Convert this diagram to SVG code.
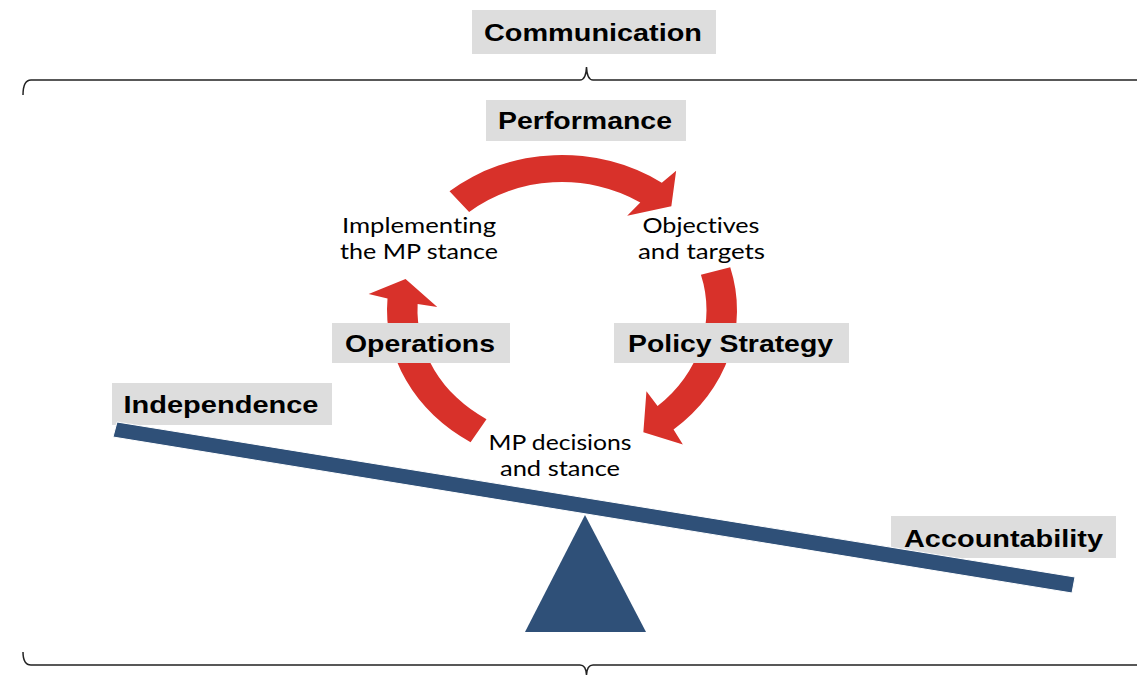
<svg xmlns="http://www.w3.org/2000/svg" width="1137" height="675" viewBox="0 0 1137 675">
  <style>
    .box { fill: #DDDDDD; }
    .label { font-family: "Liberation Sans", Arial, sans-serif; font-weight: bold; font-size: 24px; fill: #000; text-anchor: middle; }
    .step { font-family: Lato, "Open Sans", sans-serif; font-size: 21px; fill: #000; text-anchor: middle; font-variant-ligatures: none; }
    .brace { fill: none; stroke: #222; stroke-width: 1.5; }
    .arrow { fill: #D8312A; }
    .seesaw { fill: #2F5078; }
  </style>

  <rect width="1137" height="675" fill="#FFFFFF"/>

  <!-- braces framing the cycle -->
  <g id="braces">
    <path class="brace" d="M23 95 Q23 80 31 80 H580 Q586 80 586.5 67 Q587 80 593 80 H1137"/>
    <path class="brace" d="M23 652 Q23 665 31 665 H580 Q586 665 586.5 675 Q587 665 593 665 H1137"/>
  </g>

  <!-- cycle arrows: circular arrows on a horizontally stretched circle -->
  <g id="connectors" transform="translate(562 310) scale(1.129 1)">
    <path id="arrow-top" class="arrow" d="M-82.28 -98.05 L-99.63 -118.74 A155 155 0 0 1 88.40 -127.32 L101.10 -139.15 L96.84 -103.86 L57.74 -94.21 L69.34 -107.60 A128 128 0 0 0 -82.28 -98.05 Z"/>
    <path id="arrow-right" class="arrow" d="M123.04 -35.28 L149.00 -42.72 A155 155 0 0 1 98.80 119.43 L107.07 134.61 L72.07 122.35 L74.80 81.34 L84.65 96.02 A128 128 0 0 0 123.04 -35.28 Z"/>
    <path id="arrow-left" class="arrow" d="M-66.88 109.13 L-80.99 132.15 A155 155 0 0 1 -154.56 -11.62 L-171.26 -15.89 L-138.58 -30.97 L-110.46 -3.08 L-127.86 -6.03 A128 128 0 0 0 -66.88 109.13 Z"/>
  </g>

  <!-- cycle steps -->
  <g id="implementing">
    <text class="step" x="419" y="233" textLength="154" lengthAdjust="spacingAndGlyphs">Implementing</text>
    <text class="step" x="419" y="258.5" textLength="158" lengthAdjust="spacingAndGlyphs">the MP stance</text>
  </g>
  <g id="objectives">
    <text class="step" x="701" y="232.5" textLength="117" lengthAdjust="spacingAndGlyphs">Objectives</text>
    <text class="step" x="701.5" y="258.5" textLength="127" lengthAdjust="spacingAndGlyphs">and targets</text>
  </g>
  <g id="mp-decisions">
    <text class="step" x="560" y="450" textLength="143" lengthAdjust="spacingAndGlyphs">MP decisions</text>
    <text class="step" x="560" y="475.5" textLength="120" lengthAdjust="spacingAndGlyphs">and stance</text>
  </g>

  <!-- headline labels -->
  <g id="communication">
    <rect class="box" x="472" y="10" width="244" height="44"/>
    <text class="label" x="593" y="41" textLength="218" lengthAdjust="spacingAndGlyphs">Communication</text>
  </g>
  <g id="performance">
    <rect class="box" x="486" y="100" width="200" height="41"/>
    <text class="label" x="585" y="129" textLength="174" lengthAdjust="spacingAndGlyphs">Performance</text>
  </g>
  <g id="operations">
    <rect class="box" x="332" y="323" width="178" height="40"/>
    <text class="label" x="420" y="352" textLength="150" lengthAdjust="spacingAndGlyphs">Operations</text>
  </g>
  <g id="policy-strategy">
    <rect class="box" x="614" y="323" width="235" height="40"/>
    <text class="label" x="730.5" y="352" textLength="205" lengthAdjust="spacingAndGlyphs">Policy Strategy</text>
  </g>
  <g id="independence">
    <rect class="box" x="112" y="383" width="220" height="42"/>
    <text class="label" x="221" y="413" textLength="195" lengthAdjust="spacingAndGlyphs">Independence</text>
  </g>
  <g id="accountability">
    <rect class="box" x="891" y="516" width="225" height="42"/>
    <text class="label" x="1003.5" y="547" textLength="199" lengthAdjust="spacingAndGlyphs">Accountability</text>
  </g>

  <!-- seesaw: tilted beam on a fulcrum -->
  <g id="seesaw">
    <polygon class="seesaw" points="117,422 1075,577 1072,593 113,437" stroke="#FFFFFF" stroke-width="1"/>
    <polygon class="seesaw" points="585,515 525,632 646,632"/>
  </g>
</svg>
